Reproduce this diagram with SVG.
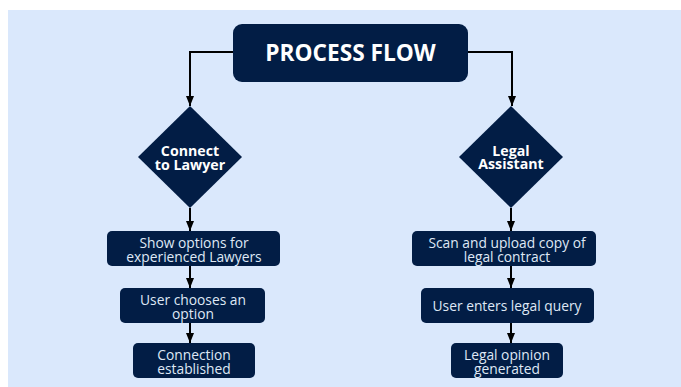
<svg xmlns="http://www.w3.org/2000/svg" width="681" height="387" viewBox="0 0 681 387">
  <defs>
    <marker id="arrow" viewBox="0 0 10 8" refX="10" refY="4" markerWidth="5" markerHeight="4" markerUnits="strokeWidth" orient="auto">
      <path d="M0,0 L10,4 L0,8 Z" fill="#000"/>
    </marker>
    <style>
      .node { fill: #021d45; }
      .edge { fill: none; stroke: #000; stroke-width: 2; marker-end: url(#arrow); }
      .title { font-family: "Open Sans", "Noto Sans", sans-serif; font-weight: 700; font-size: 22.7px; fill: #fff; text-anchor: middle; }
      .dtext { font-family: "Open Sans", "Noto Sans", sans-serif; font-weight: 700; font-size: 14.2px; fill: #fff; text-anchor: middle; }
      .btext { font-family: "Open Sans", "Noto Sans", sans-serif; font-size: 13.8px; fill: #dfe8f5; text-anchor: middle; }
    </style>
  </defs>

  <!-- page and canvas -->
  <rect x="0" y="0" width="681" height="387" fill="#fff"/>
  <rect x="8" y="10" width="673" height="377" fill="#dae8fc"/>

  <g id="connectors">
    <path class="edge" d="M234,52 H190 V106"/>
    <path class="edge" d="M467,52 H512 V106"/>
    <path class="edge" d="M190,208 V231"/>
    <path class="edge" d="M190,266 V288"/>
    <path class="edge" d="M190,323 V343"/>
    <path class="edge" d="M511,208 V231"/>
    <path class="edge" d="M511,266 V288"/>
    <path class="edge" d="M511,323 V343"/>
  </g>

  <g id="process-flow">
    <rect class="node" x="233" y="24" width="235" height="58" rx="9"/>
    <text class="title" x="350.5" y="60.5">PROCESS FLOW</text>
  </g>

  <g id="connect-to-lawyer">
    <path class="node" d="M190,106 L242,157 L190,208 L138,157 Z"/>
    <text class="dtext" x="190" y="155.5">Connect</text>
    <text class="dtext" x="190" y="169.5">to Lawyer</text>
  </g>

  <g id="show-options">
    <rect class="node" x="107" y="231" width="173" height="35" rx="5"/>
    <text class="btext" x="194" y="247.5">Show options for</text>
    <text class="btext" x="194" y="261.5">experienced Lawyers</text>
  </g>

  <g id="user-chooses">
    <rect class="node" x="120" y="288" width="145" height="35" rx="5"/>
    <text class="btext" x="193" y="304.5">User chooses an</text>
    <text class="btext" x="193" y="318.5">option</text>
  </g>

  <g id="connection-established">
    <rect class="node" x="133" y="343" width="122" height="35" rx="5"/>
    <text class="btext" x="194" y="359.5">Connection</text>
    <text class="btext" x="194" y="373.5">established</text>
  </g>

  <g id="legal-assistant">
    <path class="node" d="M511,106 L563,157 L511,208 L459,157 Z"/>
    <text class="dtext" x="511" y="155.5">Legal</text>
    <text class="dtext" x="511" y="168.5">Assistant</text>
  </g>

  <g id="scan-upload">
    <rect class="node" x="412" y="231" width="184" height="35" rx="5"/>
    <text class="btext" x="507" y="247.5">Scan and upload copy of</text>
    <text class="btext" x="507" y="261.5">legal contract</text>
  </g>

  <g id="user-enters-query">
    <rect class="node" x="421" y="288" width="173" height="35" rx="5"/>
    <text class="btext" x="507" y="310.5">User enters legal query</text>
  </g>

  <g id="legal-opinion">
    <rect class="node" x="451" y="343" width="112" height="35" rx="5"/>
    <text class="btext" x="507" y="359.5">Legal opinion</text>
    <text class="btext" x="507" y="373.5">generated</text>
  </g>
</svg>
